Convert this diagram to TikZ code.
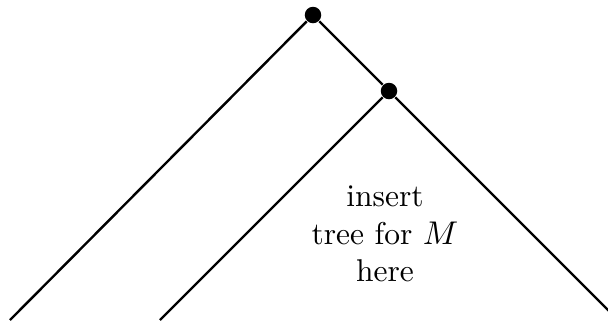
\documentclass[tikz,border=0pt]{standalone}
\usepackage{amsmath, amsfonts, amssymb}
\usepackage{tikz}

\begin{document}
\begin{tikzpicture}[x=0.3333pt, y=-0.3333pt,
        dot/.style={circle, fill=black, inner sep=0pt, minimum size=5.5pt},
        branch/.style={line width=0.8pt}]
        \useasboundingbox (0,0) rectangle (608,320);

        % Draw the two inner vertices
        \node[dot] (root) at (313,15) {};
        \node[dot] (sub) at (389,91) {};

        % Free ends of the branches
        \coordinate (leafA) at (10,320);
        \coordinate (leafB) at (160,320);
        \coordinate (leafC) at (610,312);

        % Add branches
        \draw[branch] (root) -- (leafA);
        \draw[branch] (root) -- (sub);
        \draw[branch] (sub) -- (leafB);
        \draw[branch] (sub) -- (leafC);

        % Add label
        \node[align=center, font=\fontsize{10.5}{12.5}\selectfont] (txt) at (385,234) {insert\\tree for $M$\\here};
    \end{tikzpicture}
\end{document}
